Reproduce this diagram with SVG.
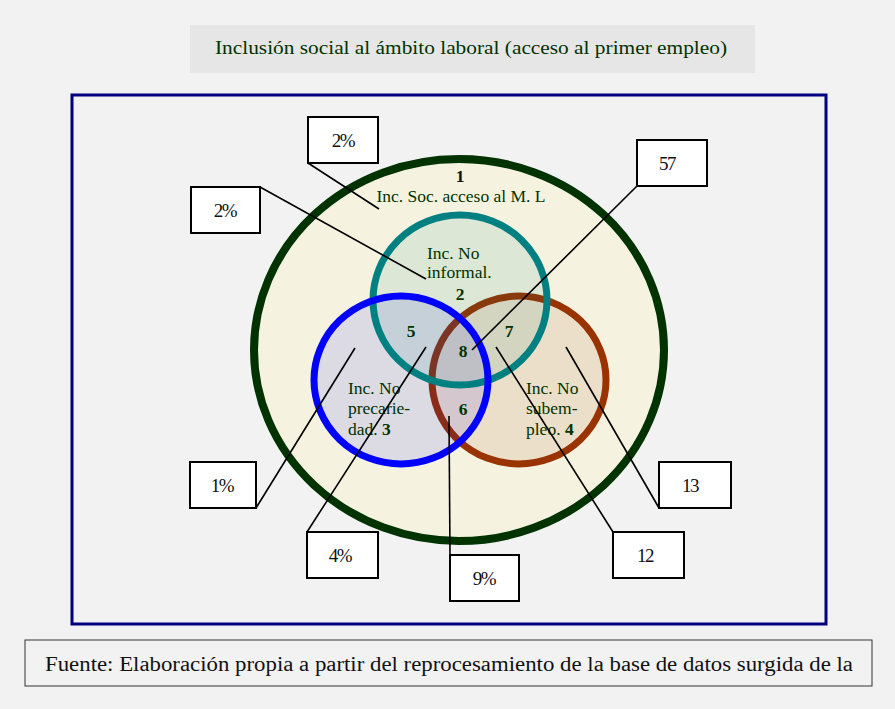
<svg xmlns="http://www.w3.org/2000/svg" width="895" height="709" viewBox="0 0 895 709">
<style>
.t{font-family:"Liberation Serif",serif;fill:#003300;font-size:17.5px}
.b{font-weight:bold}
.box rect{fill:#fff;stroke:#000;stroke-width:2}
.box text{font-family:"Liberation Serif",serif;font-size:19px;fill:#111;text-anchor:middle;letter-spacing:-1.5px}
#connectors line{stroke:#000;stroke-width:1.6}
</style>
<rect x="0" y="0" width="895" height="709" fill="#f2f2f2"/>
<g id="title">
<rect x="190" y="25" width="565" height="48" fill="#e6e6e6"/>
<text x="471" y="54" class="t" style="font-size:19.5px" text-anchor="middle" textLength="512" lengthAdjust="spacingAndGlyphs">Inclusión social al ámbito laboral (acceso al primer empleo)</text>
</g>
<rect x="72" y="95" width="754" height="529" fill="none" stroke="#000080" stroke-width="3"/>
<g id="circle1">
<ellipse cx="459" cy="350" rx="205" ry="191" fill="#f5f3e0" stroke="#003300" stroke-width="8"/>
</g>
<g id="circle4">
<ellipse cx="519" cy="380" rx="87" ry="84" fill="#993300" fill-opacity="0.1"/>
<ellipse cx="519" cy="380" rx="87" ry="84" fill="none" stroke="#993300" stroke-width="7"/>
</g>
<g id="circle3">
<ellipse cx="401" cy="380" rx="87" ry="84" fill="#0000ff" fill-opacity="0.1"/>
</g>
<g id="circle2">
<ellipse cx="460" cy="300" rx="87" ry="85" fill="#008080" fill-opacity="0.1" stroke="#008080" stroke-width="7"/>
</g>
<g id="circle3-stroke">
<ellipse cx="401" cy="380" rx="87" ry="84" fill="none" stroke="#0000ff" stroke-width="7"/>
</g>
<g id="labels">
<text x="460" y="182" class="t b" style="fill:#111" text-anchor="middle">1</text>
<text x="461" y="202" class="t" text-anchor="middle">Inc. Soc. acceso al M. L</text>
<text x="427" y="259" class="t">Inc. No</text>
<text x="427" y="278" class="t">informal.</text>
<text x="460" y="300" class="t b" text-anchor="middle">2</text>
<text x="411" y="337" class="t b" text-anchor="middle">5</text>
<text x="509" y="337" class="t b" text-anchor="middle">7</text>
<text x="463" y="357" class="t b" text-anchor="middle">8</text>
<text x="463" y="415" class="t b" text-anchor="middle">6</text>
<text x="348" y="394" class="t">Inc. No</text>
<text x="348" y="414" class="t">precarie-</text>
<text x="348" y="435" class="t">dad. <tspan class="b">3</tspan></text>
<text x="526" y="394" class="t">Inc. No</text>
<text x="526" y="414" class="t">subem-</text>
<text x="526" y="435" class="t">pleo. <tspan class="b">4</tspan></text>
</g>
<g id="connectors">
<line x1="308" y1="163" x2="379" y2="209"/>
<line x1="260" y1="187" x2="426" y2="279"/>
<line x1="637" y1="186" x2="472" y2="350"/>
<line x1="256" y1="508" x2="355" y2="348"/>
<line x1="307" y1="532" x2="426" y2="347"/>
<line x1="450" y1="555" x2="449" y2="416"/>
<line x1="613" y1="532" x2="496" y2="347"/>
<line x1="659" y1="508" x2="566" y2="347"/>
</g>
<g id="box-top2" class="box"><rect x="308" y="117" width="70" height="46"/><text x="343" y="147">2%</text></g>
<g id="box-left2" class="box"><rect x="191" y="187" width="69" height="46"/><text x="225" y="217">2%</text></g>
<g id="box-57" class="box"><rect x="637" y="140" width="70" height="46"/><text x="667" y="170">57</text></g>
<g id="box-1" class="box"><rect x="190" y="462" width="66" height="46"/><text x="222" y="492">1%</text></g>
<g id="box-13" class="box"><rect x="659" y="462" width="72" height="46"/><text x="690" y="492">13</text></g>
<g id="box-4" class="box"><rect x="307" y="532" width="71" height="46"/><text x="340" y="562">4%</text></g>
<g id="box-12" class="box"><rect x="613" y="532" width="71" height="46"/><text x="645" y="562">12</text></g>
<g id="box-9" class="box"><rect x="450" y="555" width="69" height="46"/><text x="484" y="585">9%</text></g>
<g id="footer">
<rect x="25" y="640" width="847" height="46" fill="#f2f2f2" stroke="#333" stroke-width="1"/>
<text x="45" y="671" font-family="Liberation Serif, serif" font-size="20" fill="#111" textLength="808" lengthAdjust="spacingAndGlyphs">Fuente: Elaboración propia a partir del reprocesamiento de la base de datos surgida de la</text>
</g>
</svg>
